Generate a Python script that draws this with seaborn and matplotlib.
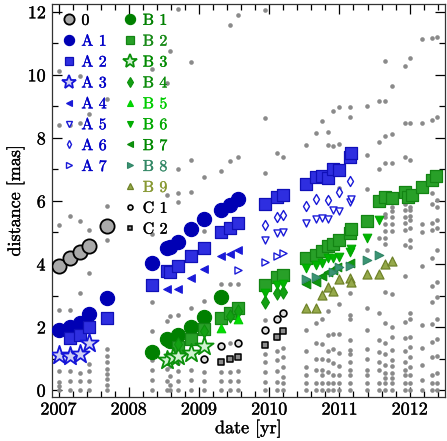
import matplotlib
matplotlib.use("Agg")
import matplotlib.pyplot as plt
import matplotlib.patheffects as pe
from matplotlib.lines import Line2D
from matplotlib.ticker import MultipleLocator, FormatStrFormatter
import seaborn as sns
import pandas as pd

# background epochs: all components at each epoch (gray dots)
bg_dates = [2007.01, 2007.16, 2007.30, 2007.43, 2007.69,
            2008.33, 2008.54, 2008.59, 2008.70, 2008.89,
            2009.07, 2009.32, 2009.44, 2009.56, 2009.94,
            2010.11, 2010.20, 2010.53, 2010.66, 2010.75,
            2010.84, 2010.91, 2010.99, 2011.15, 2011.39,
            2011.56, 2011.65, 2011.75, 2011.94, 2012.01,
            2012.17, 2012.32, 2012.39]
bg_dist = [
    [10.13, 8.41, 5.24, 2.53, 0.60, 0.25, 0.14, 0.0],
    [8.41, 5.53, 2.55, 0.60, 0.30, 0.0],
    [9.96, 8.48, 5.37, 3.09, 0.54, 0.30, 0.0],
    [8.76, 5.08, 3.70, 0.84, 0.60, 0.30, 0.0],
    [9.22, 5.85, 4.75, 1.29, 1.07, 0.89, 0.68, 0.52, 0.35, 0.16, 0.0],
    [10.2, 4.95, 2.81, 1.86, 0.95, 0.65, 0.33, 0.0],
    [9.75, 6.19, 2.18, 0.95, 0.66, 0.30, 0.0],
    [10.76, 2.34, 0.75, 0.46, 0.17, 0.0],
    [12.1, 7.0, 6.24, 5.98, 2.37, 0.86, 0.62, 0.30, 0.0],
    [10.41, 7.30, 6.30, 2.59, 0.64, 0.31, 0.0],
    [6.77, 5.05, 2.84, 0.57, 0.30, 0.0],
    [6.96, 3.38, 0.58, 0.30, 0.0],
    [11.58, 7.27, 3.38, 1.48, 0.58, 0.30, 0.0],
    [11.89, 7.38, 3.35, 0.60, 0.30, 0.0],
    [12.05, 8.64, 6.89, 2.22, 1.16, 0.90, 0.58, 0.26, 0.0],
    [7.53, 1.64, 1.25, 0.95, 0.60, 0.26, 0.0],
    [7.40, 1.32, 1.06, 0.74, 0.42, 0.21, 0.0],
    [7.77, 1.90, 1.25, 0.72, 0.48, 0.23, 0.0],
    [8.16, 2.12, 1.48, 1.00, 0.63, 0.23, 0.0],
    [8.55, 2.25, 1.45, 1.00, 0.63, 0.48, 0.23, 0.0],
    [8.18, 7.77, 6.08, 2.50, 1.74, 1.25, 0.95, 0.58, 0.23, 0.0],
    [8.85, 7.74, 1.78, 1.29, 0.87, 0.48, 0.23, 0.0],
    [8.99, 7.80, 6.40, 2.73, 1.78, 1.18, 0.76, 0.48, 0.23, 0.0],
    [8.99, 8.67, 7.38, 3.09, 2.38, 2.24, 1.59, 1.27, 1.16, 0.90, 0.63, 0.48, 0.23, 0.0],
    [9.01, 7.45, 6.37, 4.46, 2.62, 1.92, 1.29, 1.00, 0.63, 0.48, 0.23, 0.0],
    [9.18, 7.88, 7.03, 4.84, 2.45, 1.59, 1.22, 0.90, 0.63, 0.23, 0.0],
    [10.43, 9.16, 8.05, 7.19, 5.60, 5.48, 5.26, 5.05, 4.84, 4.65, 3.12, 2.14, 1.48, 1.16, 0.79, 0.55, 0.37, 0.23, 0.0],
    [9.64, 8.11, 7.21, 5.81, 5.69, 5.48, 5.26, 5.05, 3.04, 2.01, 1.69, 1.27, 0.95, 0.76, 0.55, 0.37, 0.23, 0.0],
    [10.27, 8.48, 7.40, 5.90, 5.71, 5.50, 5.31, 5.07, 4.60, 3.62, 2.17, 1.64, 1.25, 0.90, 0.65, 0.48, 0.23, 0.0],
    [10.52, 8.48, 7.29, 5.81, 5.71, 5.52, 5.39, 5.13, 4.76, 4.55, 2.43, 2.27, 1.69, 1.37, 1.06, 0.74, 0.48, 0.23, 0.0],
    [11.15, 8.46, 6.50, 5.26, 5.02, 3.93, 2.06, 1.32, 0.79, 0.32, 0.0],
    [11.17, 8.58, 6.26, 5.90, 5.29, 5.07, 4.18, 3.30, 2.80, 2.11, 1.53, 1.06, 0.48, 0.23, 0.0],
    [11.20, 8.67, 6.03, 5.81, 5.39, 5.13, 4.44, 3.44, 2.94, 2.24, 1.61, 1.08, 0.53, 0.23, 0.0],
]

# identified components
c0_t = [2007.01, 2007.16, 2007.30, 2007.43, 2007.69]
c0_d = [3.95, 4.19, 4.38, 4.58, 5.22]

a1_t = [2007.01, 2007.16, 2007.30, 2007.43, 2007.69, 2008.33, 2008.54, 2008.59,
        2008.70, 2008.89, 2009.07, 2009.32, 2009.44, 2009.56]
a1_d = [1.90, 1.99, 2.13, 2.41, 2.91, 4.03, 4.50, 4.53, 4.71, 5.10, 5.44, 5.72, 5.87, 6.07]
a2_t = [2007.16, 2007.30, 2007.43, 2007.69, 2008.33, 2008.54, 2008.59, 2008.70,
        2008.89, 2009.07, 2009.32, 2009.44, 2009.56, 2009.94, 2010.11, 2010.20,
        2010.53, 2010.66, 2010.75, 2010.84, 2010.91, 2010.99, 2011.15, 2011.17]
a2_d = [1.64, 1.76, 1.99, 2.30, 3.33, 3.78, 3.76, 3.93, 4.26, 4.52, 5.00, 5.14, 5.30,
        5.89, 6.13, 6.20, 6.55, 6.76, 6.80, 6.74, 7.03, 6.98, 7.40, 7.51]
a3_t = [2007.01, 2007.16, 2007.30, 2007.43]
a3_d = [1.11, 1.08, 1.15, 1.50]
a4_t = [2008.54, 2008.70, 2008.89, 2009.07, 2009.32, 2009.44, 2009.56]
a4_d = [3.21, 3.21, 3.57, 3.84, 4.24, 4.32, 4.45]
a5_t = [2009.94, 2010.11, 2010.20, 2010.53, 2010.66, 2010.75, 2010.84, 2010.91,
        2010.99, 2011.15, 2011.17]
a5_d = [4.76, 4.97, 5.02, 5.29, 5.44, 5.47, 5.43, 5.71, 5.69, 5.97, 6.05]
a6_t = [2009.94, 2010.11, 2010.20, 2010.53, 2010.66, 2010.84, 2010.99, 2011.15]
a6_d = [5.23, 5.50, 5.57, 5.85, 6.06, 6.03, 6.29, 6.64]
a7_t = [2009.56, 2009.94, 2010.11, 2010.20]
a7_d = [3.81, 4.05, 4.25, 4.35]

b1_t = [2008.33, 2008.54, 2008.59, 2008.70, 2008.89, 2009.07, 2009.32]
b1_d = [1.22, 1.62, 1.57, 1.75, 2.01, 2.33, 2.94]
b2_t = [2008.70, 2008.89, 2009.07, 2009.32, 2009.44, 2009.56, 2009.94, 2010.11,
        2010.20, 2010.53, 2010.66, 2010.75, 2010.84, 2010.91, 2010.99, 2011.15,
        2011.17, 2011.39, 2011.56, 2011.65, 2011.75, 2011.94, 2011.98, 2012.04,
        2012.17, 2012.32, 2012.38]
b2_d = [1.38, 1.63, 1.93, 2.30, 2.44, 2.59, 3.33, 3.59, 3.65, 4.18, 4.28, 4.40,
        4.58, 4.63, 4.76, 4.97, 5.10, 5.37, 5.99, 6.13, 6.10, 6.29, 6.13, 6.18,
        6.43, 6.66, 6.79]
b3_t = [2008.54, 2008.63, 2008.70, 2008.89, 2009.07]
b3_d = [0.94, 1.05, 1.09, 1.17, 1.41]
b4_t = [2008.70, 2009.07, 2009.44, 2009.56, 2009.94, 2010.11, 2010.20]
b4_d = [1.45, 1.88, 2.35, 2.50, 2.80, 3.07, 3.12]
b5_t = [2009.32, 2009.56]
b5_d = [1.97, 2.25]
b6_t = [2009.94, 2010.11, 2010.20, 2010.53, 2010.66, 2010.75, 2010.84, 2010.91,
        2010.99, 2011.15, 2011.17, 2011.39, 2011.56]
b6_d = [3.07, 3.33, 3.38, 3.86, 3.96, 4.02, 4.18, 4.18, 4.21, 4.39, 4.49, 4.84, 5.39]
b7_t = [2010.53, 2010.66, 2010.75, 2010.84, 2010.91, 2010.97, 2011.15]
b7_d = [3.36, 3.44, 3.62, 3.75, 3.81, 3.91, 4.02]
b8_t = [2010.53, 2010.66, 2010.91, 2010.99, 2011.15, 2011.39, 2011.56]
b8_d = [3.54, 3.59, 3.75, 3.91, 3.93, 4.12, 4.28]
b9_t = [2010.53, 2010.66, 2010.75, 2010.84, 2010.91, 2010.99, 2011.15, 2011.17,
        2011.39, 2011.56, 2011.65, 2011.75]
b9_d = [2.62, 2.59, 3.01, 3.28, 3.15, 3.51, 3.57, 3.44, 3.68, 3.68, 3.99, 4.10]

c1_t = [2009.07, 2009.32, 2009.56, 2009.94, 2010.11, 2010.20]
c1_d = [1.00, 1.40, 1.48, 1.92, 2.27, 2.43]
c2_t = [2009.32, 2009.44, 2009.56, 2009.94, 2010.11, 2010.20]
c2_d = [0.89, 0.98, 1.05, 1.43, 1.67, 1.88]

# name, dates, distances, marker, size, face, edge, linewidth, text colour
series = [
    ("0",   c0_t, c0_d, "o", 105, "#a9a9a9", "black", 1.3, "black"),
    ("A 1", a1_t, a1_d, "o", 105, "#0000b4", "#0000b4", 0.8, "#0000c8"),
    ("A 2", a2_t, a2_d, "s", 70, "#2e2ee0", "#1010b8", 0.9, "#0000c8"),
    ("A 3", a3_t, a3_d, "*", 190, "#d0d0f4", "#1515d8", 1.3, "#0000c8"),
    ("A 4", a4_t, a4_d, "<", 30, "#1a1ad8", "#1a1ad8", 0.8, "#0000c8"),
    ("A 5", a5_t, a5_d, "v", 26, "white", "#1a1ad8", 1.0, "#0000c8"),
    ("A 6", a6_t, a6_d, "d", 26, "white", "#1a1ad8", 1.0, "#0000c8"),
    ("A 7", a7_t, a7_d, ">", 26, "white", "#1a1ad8", 1.0, "#0000c8"),
    ("B 1", b1_t, b1_d, "o", 105, "#008000", "#008000", 0.8, "#008000"),
    ("B 2", b2_t, b2_d, "s", 70, "#28a028", "#138413", 0.9, "#178a17"),
    ("B 3", b3_t, b3_d, "*", 190, "#d0f2d0", "#0a900a", 1.3, "#008a00"),
    ("B 4", b4_t, b4_d, "d", 45, "#13a013", "#0c900c", 0.8, "#0b8c0b"),
    ("B 5", b5_t, b5_d, "^", 38, "#00dd00", "#00cc00", 0.8, "#00cc00"),
    ("B 6", b6_t, b6_d, "v", 38, "#00b400", "#00a800", 0.8, "#00a800"),
    ("B 7", b7_t, b7_d, "<", 38, "#0e960e", "#0a880a", 0.8, "#008800"),
    ("B 8", b8_t, b8_d, ">", 38, "#3b9474", "#2f8464", 0.8, "#338866"),
    ("B 9", b9_t, b9_d, "^", 42, "#95a94a", "#6f8229", 0.9, "#889933"),
    ("C 1", c1_t, c1_d, "o", 24, "#dcdcdc", "black", 1.2, "black"),
    ("C 2", c2_t, c2_d, "s", 16, "#8c8c8c", "black", 1.1, "black"),
]

plt.rcParams["font.family"] = ["cmr10", "DejaVu Serif"]
plt.rcParams["axes.formatter.use_mathtext"] = True
plt.rcParams["mathtext.fontset"] = "cm"

fig, ax = plt.subplots(figsize=(4.47, 4.41), dpi=100)
fig.subplots_adjust(left=0.116, right=0.995, top=0.991, bottom=0.099)

bg = pd.DataFrame({
    "date": [t for t, ds in zip(bg_dates, bg_dist) for _ in ds],
    "dist": [d for ds in bg_dist for d in ds],
})
sns.scatterplot(data=bg, x="date", y="dist", color="#8a8a8a", s=11,
                linewidth=0, ax=ax, zorder=2, legend=False)

handles = []
for name, ts, ds, mk, sz, fc, ec, lw, tc in series:
    sns.scatterplot(x=ts, y=ds, marker=mk, s=sz, color=fc, edgecolor=ec,
                    linewidth=lw, ax=ax, zorder=3, legend=False)
    handles.append(Line2D([], [], linestyle="none", marker=mk,
                          markersize=(sz ** 0.5) * 0.72, markerfacecolor=fc,
                          markeredgecolor=ec, markeredgewidth=lw, label=name))

blank = Line2D([], [], linestyle="none", label="")
order = handles[:8] + [blank] * 3 + handles[8:]
text_cols = [s[8] for s in series[:8]] + ["none"] * 3 + [s[8] for s in series[8:]]
leg = ax.legend(handles=order, labels=[h.get_label() for h in order], ncol=2,
                loc="upper left", bbox_to_anchor=(0.0, 1.0), frameon=False,
                fontsize=11.5, handlelength=0.9, handletextpad=0.35,
                columnspacing=1.0, labelspacing=0.42, borderaxespad=0.2)
for txt, col in zip(leg.get_texts(), text_cols):
    txt.set_color(col)
    if col != "none":
        txt.set_path_effects([pe.withStroke(linewidth=0.25, foreground=col)])

ax.set_xlim(2006.905, 2012.5)
ax.set_ylim(-0.23, 12.25)
ax.xaxis.set_major_locator(MultipleLocator(1))
ax.xaxis.set_minor_locator(MultipleLocator(0.2))
ax.xaxis.set_major_formatter(FormatStrFormatter("%d"))
ax.yaxis.set_major_locator(MultipleLocator(2))
ax.yaxis.set_minor_locator(MultipleLocator(1))
ax.tick_params(which="both", direction="in", top=True, right=True,
               labelsize=13, width=0.9)
ax.tick_params(which="major", length=7)
ax.tick_params(which="minor", length=4.5)
for sp in ax.spines.values():
    sp.set_linewidth(0.9)
    sp.set_color("#333333")
ax.set_xlabel("date [yr]", fontsize=13, labelpad=2)
ax.set_ylabel("distance [mas]", fontsize=13, labelpad=2)

bold = [pe.withStroke(linewidth=0.25, foreground="black")]
for lab in ax.get_xticklabels() + ax.get_yticklabels():
    lab.set_path_effects(bold)
ax.xaxis.label.set_path_effects(bold)
ax.yaxis.label.set_path_effects(bold)

fig.savefig("out.png", dpi=100)
